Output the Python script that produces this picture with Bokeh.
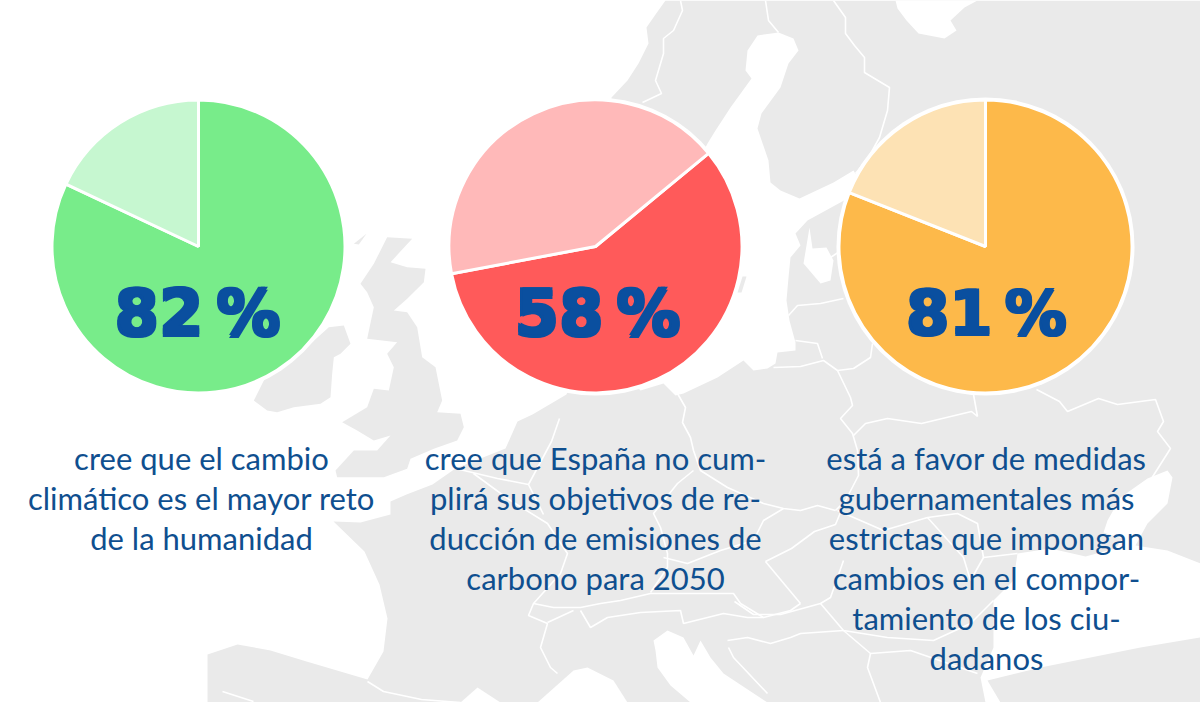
import math
from bokeh.plotting import figure
from bokeh.models import Range1d
from bokeh.core.properties import value
from bokeh.embed import file_html
from bokeh.resources import INLINE

# ---------- chart values ----------
shares = [82, 58, 81]
labels = ["82\u2009%", "58\u2009%", "81\u2009%"]
first_angle_deg = [90, 39.5, 90]
dark_colors = ["#78ec8a", "#ff5a5a", "#fdb94a"]
light_colors = ["#c6f7d0", "#ffb9b9", "#fde2b4"]
caption_1 = ["cree que el cambio", "climático es el mayor reto", "de la humanidad"]
caption_2 = ["cree que España no cum-", "plirá sus objetivos de re-", "ducción de emisiones de", "carbono para 2050"]
caption_3 = ["está a favor de medidas", "gubernamentales más", "estrictas que impongan", "cambios en el compor-", "tamiento de los ciu-", "dadanos"]
pie_x = [198, 595, 985]
pie_py = 246
pie_r = 146.5
caption_x = [201, 595, 986]
label_x = [197, 597, 986]
label_size = ["64px", "64px", "62px"]
weight_offsets = [(-1.3, -1.3), (1.3, -1.3), (-1.3, 1.3), (1.3, 1.3)]

# ---------- decorative map outline, traced in picture pixels ----------
continent = [(665,0),(1200,0),(1200,702),(207,702),(207,654),(237,644),(270,650),(306,661),(367,679),(383,651),(387,618),(379,584),(364,551),(333,521),(360,522),(390,514),(390,501),(406,494),(432,484),(455,468),(505,448),(517,421),(532,414),(566,394),(600,300),(611,97),(627,80),(638,63),(648,43),(646,27),(655,14)]
baltic = [(757,35),(778,32),(793,38),(798,50),(788,63),(780,87),(761,113),(757,128),(768,160),(770,182),(780,190),(799,198),(833,182),(853,170),(865,190),(849,197),(807,220),(795,233),(800,245),(790,257),(788,277),(786,300),(789,320),(795,342),(795,350),(777,352),(775,363),(767,368),(753,370),(743,360),(717,377),(683,393),(675,395),(663,383),(640,390),(600,350),(707,143),(715,130),(730,107),(751,78),(745,70),(747,50)]
riga = [(809,227),(803,263),(820,283),(830,280),(833,260),(826,247),(812,248)]
white_sea = [(895,0),(977,0),(964,7),(950,20),(956,30),(944,38),(918,33),(906,20),(897,8)]
black_sea = [(1167,470),(1147,478),(1120,497),(1107,520),(1103,532),(1122,538),(1115,548),(1085,556),(1050,548),(1017,553),(1013,580),(993,600),(993,647),(980,677),(985,702),(1000,702),(987,680),(1040,667),(1140,647),(1200,637),(1200,563),(1167,550),(1135,545),(1147,523),(1167,503),(1172,477)]
lion = [(460,702),(477,687),(500,702)]
tyrrhenian = [(537,702),(573,670),(587,667),(613,680),(627,702)]
adriatic = [(653,640),(667,630),(683,637),(693,655),(700,640),(710,657),(723,673),(767,702),(690,702),(670,685),(657,667),(655,650)]
gotland = [(742,276),(746,276),(741,292),(737,292)]
gb_z = [(380,50),(455,55),(390,125),(440,140),(495,145),(490,185),(440,235),(400,270),(440,275),(470,320),(485,410),(525,440),(545,540),(530,575),(600,580),(610,620),(590,660),(520,685),(450,715),(440,745),(370,770),(230,770),(225,750),(280,690),(350,690),(390,645),(340,660),(290,630),(245,605),(320,560),(340,505),(385,510),(400,440),(380,400),(410,365),(320,355),(340,260),(320,215),(300,190),(340,130)]
ireland_z = [(205,320),(250,315),(270,370),(240,400),(220,410),(215,460),(210,530),(180,550),(100,560),(50,575),(20,570),(-20,540),(50,400),(150,370)]
isle_z = [(280,70),(318,40),(295,72)]
borders = [
 [(680,0),(682,10),(673,30),(663,38),(663,53),(655,80),(661,93),(642,102)],
 [(765,0),(768,20),(778,32)],
 [(833,0),(845,17),(845,33),(854,45),(864,57),(864,72),(889,87),(887,110),(879,137),(868,157),(855,173)],
 [(788,315),(797,305),(820,303),(843,298)],
 [(795,340),(817,343),(822,358)],
 [(773,367),(800,366),(823,360),(837,370),(850,397),(852,405),(840,418),(852,433),(857,450),(858,475),(845,500),(835,510)],
 [(837,370),(853,368),(870,357),(872,343)],
 [(853,435),(865,423),(887,418),(921,423),(971,411),(977,416),(973,394)],
 [(1036,389),(1059,401),(1067,411),(1098,398),(1117,404),(1155,399),(1163,421),(1157,431),(1170,448),(1151,478)],
 [(677,393),(685,407),(682,422),(690,437),(693,450),(700,470),(727,487),(763,503),(783,508),(800,510),(817,505),(835,510)],
 [(693,470),(677,483),(653,513),(660,527),(667,553),(667,567),(650,592)],
 [(663,557),(687,563),(720,550),(753,540),(763,520),(783,508)],
 [(533,603),(553,607),(580,607),(600,603),(620,600),(650,593),(697,593),(733,593),(740,603),(763,617),(790,610),(800,603)],
 [(580,610),(590,627),(607,617),(640,612),(680,610),(683,623),(723,613),(747,617),(763,617)],
 [(473,473),(510,500),(547,523),(567,553),(560,573),(533,603),(528,615),(547,623),(540,647),(550,667),(557,673)],
 [(547,622),(573,610)],
 [(559,418),(551,441),(528,484),(543,514)],
 [(455,468),(497,478),(528,484)],
 [(367,681),(383,691),(421,699),(460,702)],
 [(222,691),(253,701)],
 [(765,561),(791,548),(814,531),(835,524),(840,512)],
 [(800,603),(765,561)],
 [(843,560),(830,597),(820,603),(780,614),(753,614),(734,601)],
 [(837,510),(883,530),(927,517),(957,513),(977,523),(983,557),(1000,555),(1017,553)],
 [(927,517),(963,557),(970,580),(983,557)],
 [(820,603),(843,630),(887,637),(933,640),(970,623),(993,600)],
 [(843,630),(870,653),(867,667),(880,702)],
 [(870,653),(910,650),(977,673)],
 [(727,640),(747,637),(770,643),(790,637),(800,633),(843,630)],
 [(728,647),(733,657),(767,693)],
 [(830,257),(845,247)],
]

def zoom7(pts):
    return [(260 + x / 3, 220 + y / 3) for x, y in pts]

def xs_of(pts):
    return [a for a, _ in pts]

def ys_of(pts):
    return [702 - b for _, b in pts]

p = figure(width=1200, height=702, x_range=Range1d(0, 1200), y_range=Range1d(0, 702),
           output_backend="svg", toolbar_location=None, min_border=0)
p.axis.visible = False
p.grid.visible = False
p.outline_line_color = None
p.background_fill_color = "white"

MAP = "#eaeaea"
white_polys = [baltic, riga, white_sea, black_sea, lion, tyrrhenian, adriatic]
p.patches([xs_of(continent)], [ys_of(continent)], fill_color=MAP, line_color=None)
p.patches([xs_of(a) for a in white_polys], [ys_of(a) for a in white_polys], fill_color="white", line_color=None)
gray_polys = [zoom7(gb_z), zoom7(ireland_z), zoom7(isle_z), gotland]
p.patches([xs_of(a) for a in gray_polys], [ys_of(a) for a in gray_polys], fill_color=MAP, line_color=None)
p.multi_line([xs_of(a) for a in borders], [ys_of(a) for a in borders], line_color="white", line_width=1.6)

for cx, lx, fs, share, a0, dark, light, lab in zip(pie_x, label_x, label_size, shares, first_angle_deg, dark_colors, light_colors, labels):
    cy = 702 - pie_py
    p.circle(x=[cx], y=[cy], radius=pie_r + 2.5, fill_color="white", line_color=None)
    sweep = share / 100 * 360
    a1 = a0 - sweep
    p.wedge(x=[cx], y=[cy], radius=pie_r, start_angle=math.radians(a0), end_angle=math.radians(a1),
            direction="clock", fill_color=dark, line_color="white", line_width=3)
    p.wedge(x=[cx], y=[cy], radius=pie_r, start_angle=math.radians(a1), end_angle=math.radians(a0),
            direction="clock", fill_color=light, line_color="white", line_width=3)
    for dx, dy in weight_offsets:
        p.text(x=[lx + dx], y=[702 - 313 + dy], text=[lab], text_font=value("DejaVu Sans"), text_font_style="bold",
               text_font_size=fs, text_color="#0a4f9f", text_align="center", text_baseline="alphabetic")

for cx, lines in zip(caption_x, [caption_1, caption_2, caption_3]):
    ys = [702 - (457 + 40 * i) for i in range(len(lines))]
    p.text(x=[cx] * len(lines), y=ys, text=lines, text_font=value("Lato"), text_font_size="31px",
           text_color="#0f4f8f", text_align="center", text_baseline="alphabetic")

open("out.html", "w").write(file_html(p, INLINE))
